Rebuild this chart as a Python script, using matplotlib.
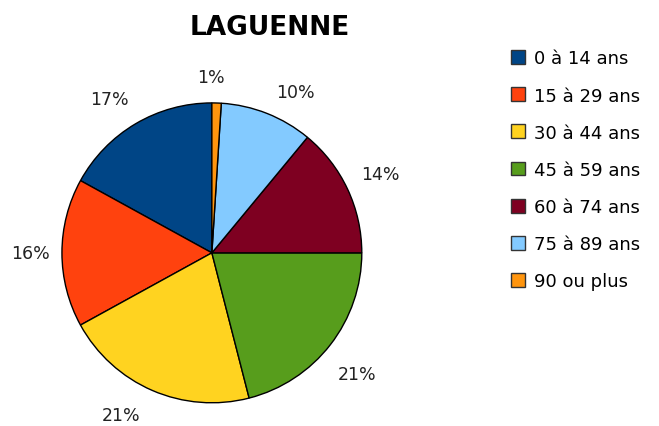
import matplotlib
matplotlib.use('Agg')
from matplotlib import pyplot as plt
from matplotlib.patches import Patch
import numpy as np

plt.rcParams['font.family'] = ['DejaVu Sans']

# données
categories = ['0 à 14 ans', '15 à 29 ans', '30 à 44 ans', '45 à 59 ans',
              '60 à 74 ans', '75 à 89 ans', '90 ou plus']
valeurs = [17, 16, 21, 21, 14, 10, 1]
couleurs = ['#004586', '#ff420e', '#ffd320', '#579d1c',
            '#7e0021', '#83caff', '#ff950e']
# placement des étiquettes (décalage d'angle en degrés, distance relative au rayon)
decal_angle = [3, 0, -6, -2, 0, -6, 2]
distance = [1.23, 1.21, 1.24, 1.26, 1.24, 1.21, 1.17]


def main():
    fig = plt.figure(figsize=(6.59, 4.27), dpi=100)
    ax = fig.add_axes([0.094, 0.054, 0.455, 0.703])
    wedges, textes, pcts = ax.pie(valeurs, colors=couleurs, startangle=90, counterclock=True,
                                  autopct='%d%%', pctdistance=1.2,
                                  wedgeprops=dict(edgecolor='black', linewidth=1),
                                  textprops=dict(fontsize=12.5, color='#222222'))
    for w, t, da, d in zip(wedges, pcts, decal_angle, distance):
        ang = np.deg2rad((w.theta1 + w.theta2) / 2 + da)
        t.set_position((d * np.cos(ang), d * np.sin(ang)))
    ax.set_xlim(-1, 1)
    ax.set_ylim(-1, 1)
    ax.set_aspect('equal')
    ax.axis('off')

    fig.text(0.41, 0.935, 'LAGUENNE', ha='center', va='center',
             fontsize=19, fontweight='bold')

    poignees = [Patch(facecolor=c, edgecolor='#333333', linewidth=1) for c in couleurs]
    fig.legend(poignees, categories, loc='upper left',
               bbox_to_anchor=(0.775, 0.882), frameon=False, fontsize=13,
               handlelength=0.8, handleheight=0.8, handletextpad=0.5,
               labelspacing=1.06, borderaxespad=0, borderpad=0)

    fig.savefig('out.png', dpi=100)


if __name__ == '__main__':
    main()
